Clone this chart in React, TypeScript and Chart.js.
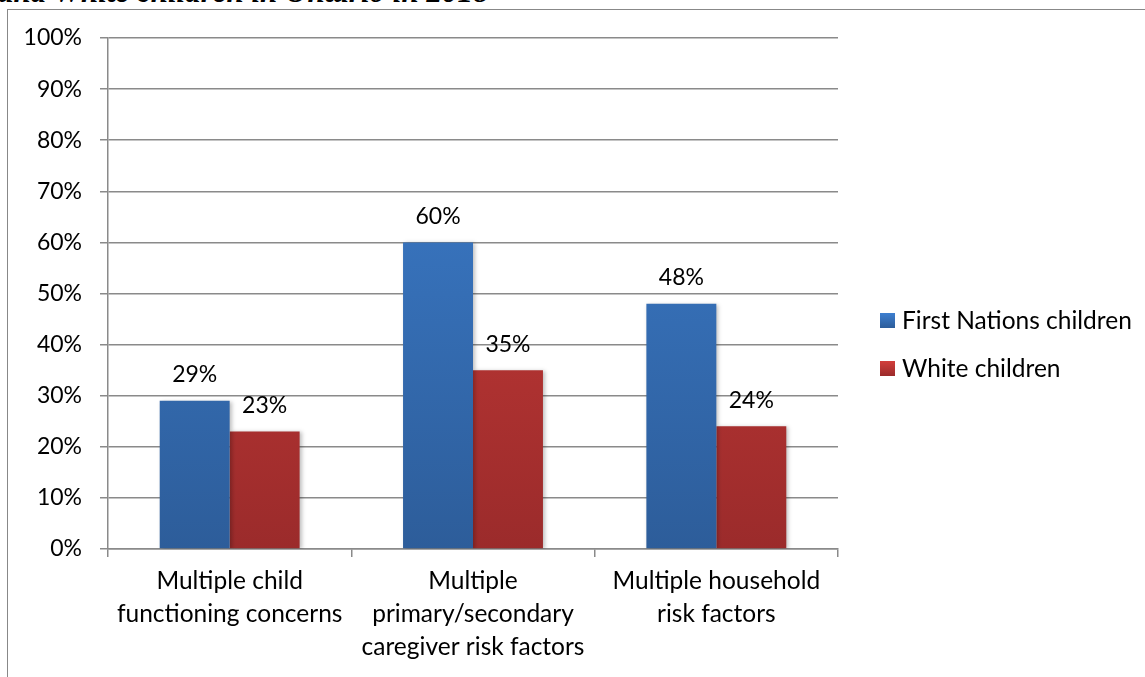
import { useEffect, useRef } from "react";
import { Chart, registerables } from "chart.js";

Chart.register(...registerables);

const categories: string[][] = [
  ["Multiple child", "functioning concerns"],
  ["Multiple", "primary/secondary", "caregiver risk factors"],
  ["Multiple household", "risk factors"],
];
const firstNationsValues = [29, 60, 48];
const whiteValues = [23, 35, 24];
const seriesNames = ["First Nations children", "White children"];
const titleText = "and White children in Ontario in 2018";

const FONT = "Lato, 'Open Sans', sans-serif";

function grad(chart: any, top: string, bottom: string) {
  const area = chart.chartArea;
  if (!area) return top;
  const g = chart.ctx.createLinearGradient(0, area.top, 0, area.bottom);
  g.addColorStop(0, top);
  g.addColorStop(1, bottom);
  return g;
}

export default function App() {
  const ref = useRef<HTMLCanvasElement>(null);
  useEffect(() => {
    document.body.style.margin = "0";
    const canvas = ref.current!;
    const blueTop = "#3D7FD0";
    const blueBottom = "#2D5D9A";
    const redTop = "#D23E3B";
    const redBottom = "#9B2B2B";

    const labelPlugin = {
      id: "valueLabels",
      afterDatasetsDraw(chart: any) {
        const ctx = chart.ctx;
        ctx.save();
        ctx.fillStyle = "#000";
        ctx.font = `23px ${FONT}`;
        ctx.textAlign = "center";
        ctx.textBaseline = "middle";
        chart.data.datasets.forEach((ds: any, i: number) => {
          const meta = chart.getDatasetMeta(i);
          meta.data.forEach((el: any, j: number) => {
            ctx.fillText(`${ds.data[j]}%`, el.x, el.y - 26);
          });
        });
        ctx.restore();
      },
    };

    const legendPlugin = {
      id: "customLegend",
      afterDraw(chart: any) {
        const ctx = chart.ctx;
        ctx.save();
        const colors = [
          [blueTop, blueBottom],
          [redTop, redBottom],
        ];
        const ys = [320.5, 368.5];
        seriesNames.forEach((name, i) => {
          const y = ys[i];
          const g = ctx.createLinearGradient(0, y - 7.5, 0, y + 7.5);
          g.addColorStop(0, colors[i][0]);
          g.addColorStop(1, colors[i][1]);
          ctx.fillStyle = g;
          ctx.fillRect(880, y - 7.5, 15, 15);
          ctx.fillStyle = "#000";
          ctx.font = `24.5px ${FONT}`;
          ctx.textAlign = "left";
          ctx.textBaseline = "middle";
          ctx.fillText(name, 902, y + 1);
        });
        ctx.restore();
      },
    };

    const shadowPlugin = {
      id: "barShadow",
      beforeDatasetsDraw(chart: any) {
        const ctx = chart.ctx;
        ctx.save();
        ctx.shadowColor = "rgba(0,0,0,0.25)";
        ctx.shadowBlur = 4;
        ctx.shadowOffsetX = 2;
        ctx.shadowOffsetY = 1;
      },
      afterDatasetsDraw(chart: any) {
        chart.ctx.restore();
      },
    };

    const chart = new Chart(canvas, {
      type: "bar",
      data: {
        labels: categories,
        datasets: [
          {
            label: seriesNames[0],
            data: firstNationsValues,
            backgroundColor: (c: any) => grad(c.chart, blueTop, blueBottom),
            borderWidth: 0,
            categoryPercentage: 0.575,
            barPercentage: 1,
          },
          {
            label: seriesNames[1],
            data: whiteValues,
            backgroundColor: (c: any) => grad(c.chart, redTop, redBottom),
            borderWidth: 0,
            categoryPercentage: 0.575,
            barPercentage: 1,
          },
        ],
      },
      options: {
        animation: false,
        responsive: false,
        devicePixelRatio: 1,
        layout: { padding: { left: 0, top: 38, right: 307, bottom: 0 } },
        plugins: {
          legend: { display: false },
          tooltip: { enabled: false },
          title: { display: false },
        },
        scales: {
          x: {
            afterFit: (s: any) => {
              s.height = 128;
            },
            grid: {
              display: true,
              drawOnChartArea: false,
              drawTicks: true,
              tickLength: 8,
              color: "#8a8a8a",
              lineWidth: 1.5,
              offset: true,
            },
            border: { display: true, color: "#8a8a8a", width: 1.5 },
            ticks: {
              color: "#000",
              font: { family: FONT, size: 24.5, lineHeight: 33 / 24.5 },
              padding: 8,
              maxRotation: 0,
              autoSkip: false,
            },
          },
          y: {
            min: 0,
            max: 100,
            afterFit: (s: any) => {
              s.width = 108;
            },
            grid: {
              color: "#8a8a8a",
              lineWidth: 1.5,
              tickLength: 8,
            },
            border: { display: true, color: "#8a8a8a", width: 1.5 },
            ticks: {
              stepSize: 10,
              color: "#000",
              padding: 18,
              font: { family: FONT, size: 23 },
              callback: (v: any) => `${v}%`,
            },
          },
        },
      },
      plugins: [shadowPlugin, labelPlugin, legendPlugin],
    });
    return () => chart.destroy();
  }, []);

  return (
    <div style={{ position: "relative", width: 1145, height: 677, overflow: "hidden", background: "#fff" }}>
      <div
        style={{
          position: "absolute",
          left: -2,
          top: -24.5,
          fontFamily: "'Liberation Serif', 'Times New Roman', serif",
          fontStyle: "italic",
          fontWeight: "bold",
          fontSize: 31,
          lineHeight: "31px",
          whiteSpace: "nowrap",
          color: "#000",
        }}
      >
        {titleText}
      </div>
      <div
        style={{
          position: "absolute",
          left: 7,
          top: 9,
          width: 1200,
          height: 800,
          border: "1.5px solid #888",
          boxSizing: "border-box",
        }}
      />
      <canvas ref={ref} width={1145} height={677} style={{ position: "absolute", left: 0, top: 0, width: 1145, height: 677 }} />
    </div>
  );
}
